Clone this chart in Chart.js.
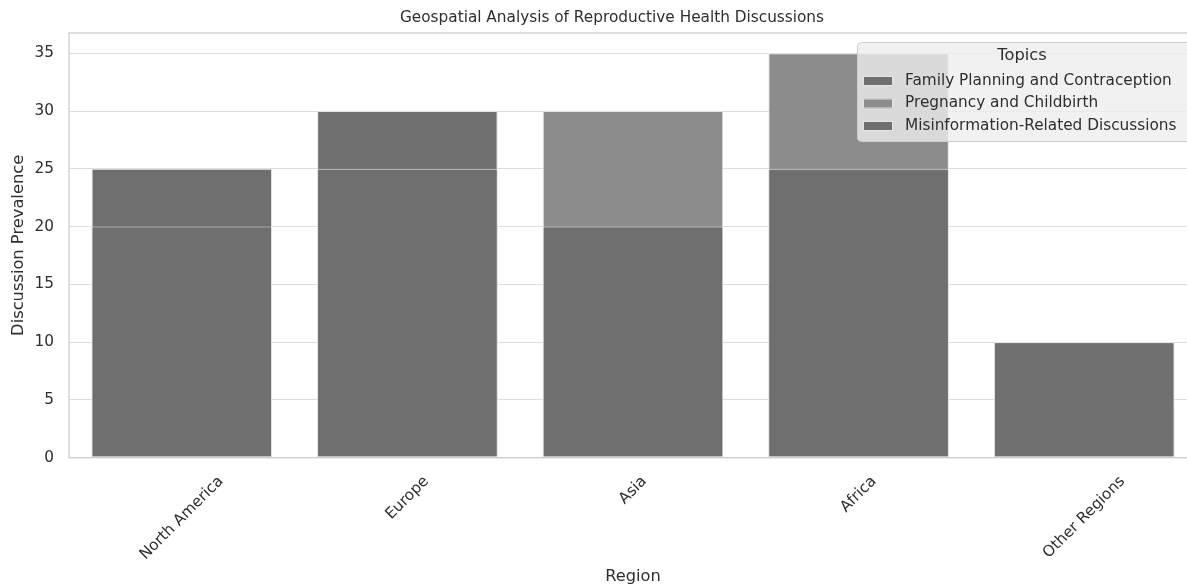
<!DOCTYPE html>
<html>
<head>
<meta charset="utf-8">
<script src="https://cdn.jsdelivr.net/npm/chart.js@4.4.1/dist/chart.umd.min.js"></script>
<style>
  html, body { margin: 0; padding: 0; background: #fff; overflow: hidden; }
  #wrap { width: 1187px; height: 587px; overflow: hidden; }
</style>
</head>
<body>
<div id="wrap"><canvas id="chart" width="1200" height="587"></canvas></div>
<script>
const REGIONS = ["North America", "Europe", "Asia", "Africa", "Other Regions"];
const TOPICS = [
  "Family Planning and Contraception",
  "Pregnancy and Childbirth",
  "Misinformation-Related Discussions",
];

// bars are drawn on top of each other, so some values are hidden behind others
const familyPlanning = [25, 30, 20, 15, 10];
const pregnancy = [15, 20, 30, 35, 5];
const misinformation = [20, 25, 20, 25, 10];

const Y_TICKS = [0, 5, 10, 15, 20, 25, 30, 35];

const DARK = "#6f6f6f";
const LIGHT = "#8c8c8c";
const COLORS = [DARK, LIGHT, DARK];
const TEXT = "#2e2e2e";
const FONT_SIZE = 15.3;
const FONT = `${FONT_SIZE}px 'DejaVu Sans'`;
const LABEL_FONT = "16.3px 'DejaVu Sans'";

function barSet(label, data, color, order) {
  return {
    label,
    data,
    backgroundColor: color,
    borderColor: "#e4e4e4",
    borderWidth: 1,
    borderSkipped: false,
    grouped: false,
    categoryPercentage: 0.8,
    barPercentage: 1.0,
    order,
  };
}

const decorPlugin = {
  id: "decor",
  afterDatasetsDraw(chart) {
    const { ctx, chartArea: a } = chart;
    ctx.save();
    ctx.strokeStyle = "#cccccc";
    ctx.lineWidth = 1.25;
    ctx.strokeRect(a.left, a.top, a.right - a.left, a.bottom - a.top);
    ctx.restore();
  },
  afterDraw(chart) {
    const { ctx, chartArea: a, scales } = chart;
    ctx.save();
    ctx.font = FONT;
    ctx.fillStyle = TEXT;

    // title
    ctx.textAlign = "center";
    ctx.textBaseline = "middle";
    ctx.fillText("Geospatial Analysis of Reproductive Health Discussions", 612, 18);

    // x tick labels, rotated 45 deg and centred on the tick
    REGIONS.forEach((r, i) => {
      const x = scales.x.getPixelForValue(i);
      const w = ctx.measureText(r).width;
      const half = ((w + FONT_SIZE * 1.16) * Math.SQRT1_2) / 2;
      ctx.save();
      ctx.translate(x, a.bottom + 15 + half);
      ctx.rotate(-Math.PI / 4);
      ctx.fillText(r, 0, 0);
      ctx.restore();
    });

    // axis titles
    ctx.font = LABEL_FONT;
    ctx.fillText("Region", (a.left + a.right) / 2, 577);
    ctx.save();
    ctx.translate(18.5, (a.top + a.bottom) / 2);
    ctx.rotate(-Math.PI / 2);
    ctx.fillText("Discussion Prevalence", 0, 0);
    ctx.restore();

    // legend (upper right, inside the axes)
    const lx = a.right - 340;
    const ly = a.top + 9;
    ctx.beginPath();
    ctx.roundRect(lx + 0.5, ly + 0.5, 336, 99, 4);
    ctx.fillStyle = "rgba(238, 238, 238, 0.8)";
    ctx.fill();
    ctx.strokeStyle = "#cccccc";
    ctx.lineWidth = 1;
    ctx.stroke();

    ctx.fillStyle = TEXT;
    ctx.textAlign = "center";
    ctx.font = LABEL_FONT;
    ctx.fillText("Topics", lx + 165, ly + 14);

    ctx.font = FONT;
    ctx.textAlign = "left";
    TOPICS.forEach((t, i) => {
      const y = ly + 39 + i * 22.5;
      ctx.fillStyle = COLORS[i];
      ctx.fillRect(lx + 6, y - 5, 30, 10);
      ctx.strokeStyle = "#e4e4e4";
      ctx.strokeRect(lx + 6.5, y - 4.5, 29, 9);
      ctx.fillStyle = TEXT;
      ctx.fillText(t, lx + 48, y);
    });
    ctx.restore();
  },
};

new Chart(document.getElementById("chart"), {
  type: "bar",
  data: {
    labels: REGIONS,
    datasets: [
      barSet(TOPICS[0], familyPlanning, COLORS[0], 3),
      barSet(TOPICS[1], pregnancy, COLORS[1], 2),
      barSet(TOPICS[2], misinformation, COLORS[2], 1),
    ],
  },
  options: {
    responsive: false,
    animation: false,
    layout: { padding: { left: 0, right: 3, top: 33, bottom: 0 } },
    scales: {
      x: {
        offset: true,
        grid: { display: false },
        border: { display: false },
        ticks: { display: false },
        afterFit: (scale) => { scale.height = 129.3; },
      },
      y: {
        min: 0,
        max: 36.75,
        afterBuildTicks: (scale) => { scale.ticks = Y_TICKS.map((v) => ({ value: v })); },
        grid: { color: "#dddddd", lineWidth: 1, drawTicks: false },
        border: { display: false },
        ticks: {
          padding: 15,
          color: TEXT,
          font: { family: "DejaVu Sans", size: FONT_SIZE },
        },
        afterFit: (scale) => { scale.width = 69; },
      },
    },
    plugins: {
      legend: { display: false },
      tooltip: { enabled: false },
    },
  },
  plugins: [decorPlugin],
});
</script>
</body>
</html>
